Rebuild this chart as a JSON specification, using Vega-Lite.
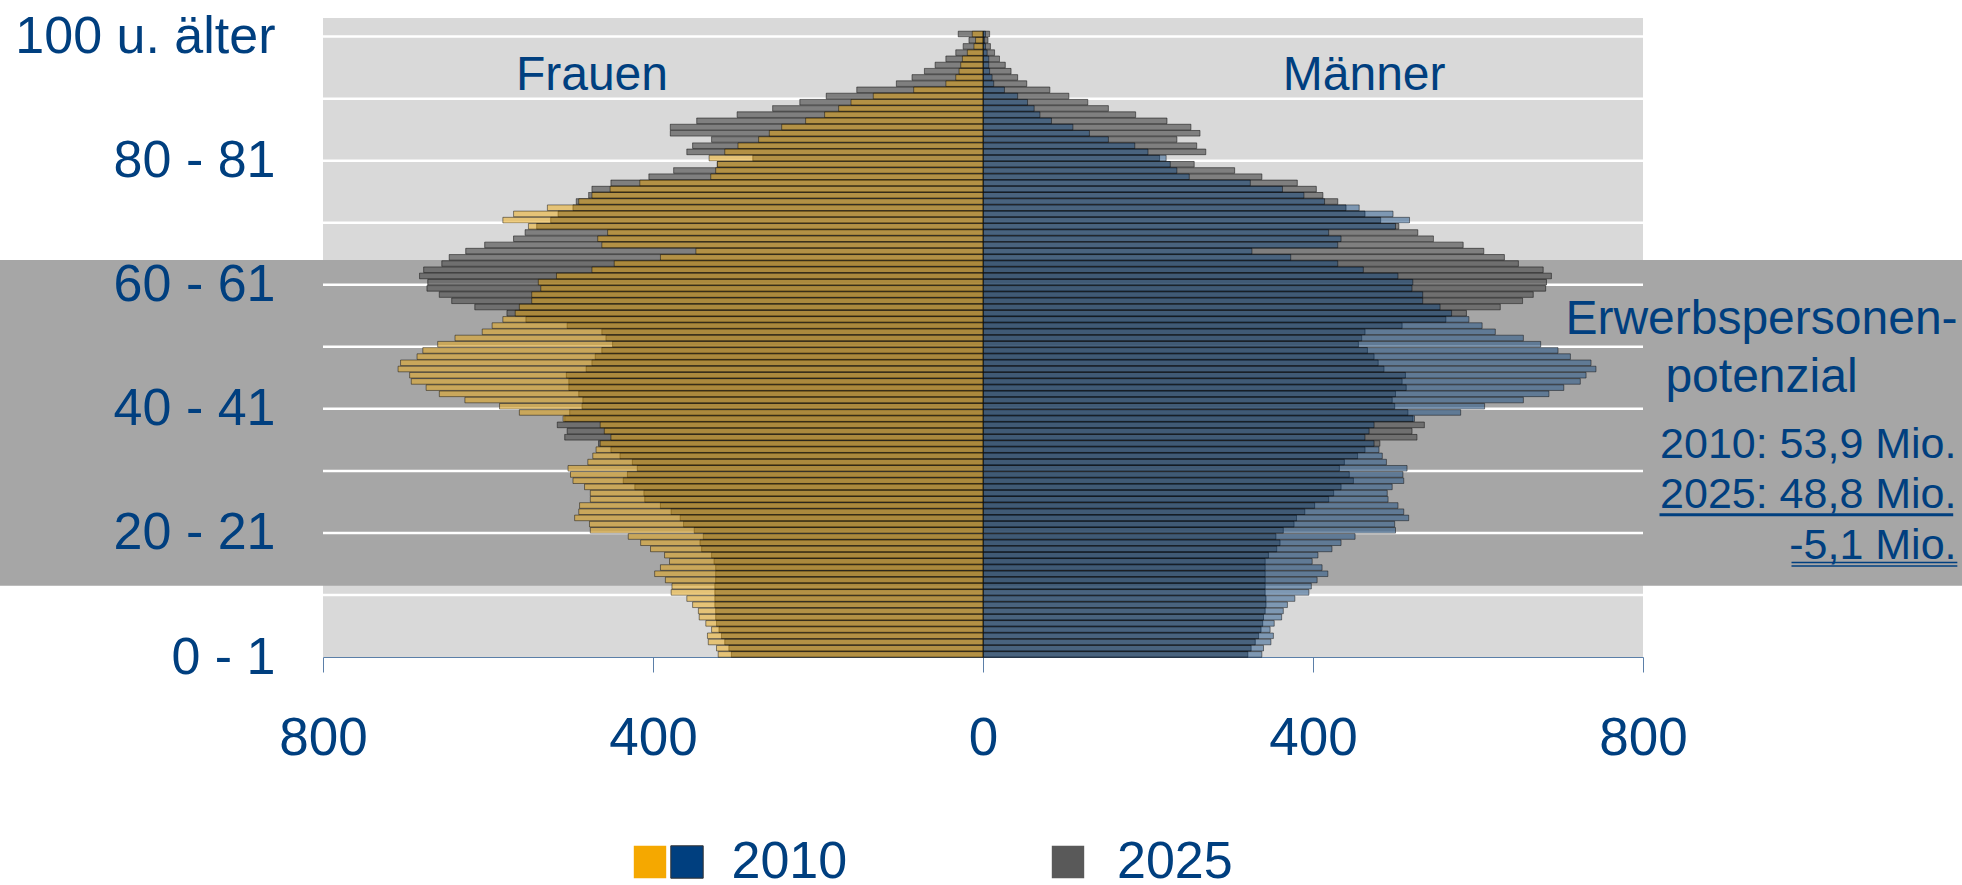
{
  "$schema": "https://vega.github.io/schema/vega-lite/v6.json",
  "width": 1320,
  "height": 639,
  "autosize": {"type": "none"},
  "padding": {"left": 323, "top": 18, "right": 319, "bottom": 228},
  "background": "white",
  "config": {"font": "Liberation Sans", "view": {"fill": "#d9d9d9", "stroke": null}},
  "data": {"values": [
    {"age":0,"f2010":321,"f2025":305,"m2010":338,"m2025":321},
    {"age":1,"f2010":323,"f2025":308,"m2010":340,"m2025":325},
    {"age":2,"f2010":333,"f2025":313,"m2010":349,"m2025":330},
    {"age":3,"f2010":334,"f2025":317,"m2010":352,"m2025":334},
    {"age":4,"f2010":329,"f2025":320,"m2010":348,"m2025":337},
    {"age":5,"f2010":336,"f2025":323,"m2010":353,"m2025":339},
    {"age":6,"f2010":344,"f2025":324,"m2010":362,"m2025":340},
    {"age":7,"f2010":345,"f2025":324,"m2010":364,"m2025":342},
    {"age":8,"f2010":352,"f2025":325,"m2010":369,"m2025":343},
    {"age":9,"f2010":359,"f2025":325,"m2010":378,"m2025":343},
    {"age":10,"f2010":378,"f2025":325,"m2010":395,"m2025":342},
    {"age":11,"f2010":377,"f2025":325,"m2010":398,"m2025":342},
    {"age":12,"f2010":385,"f2025":324,"m2010":405,"m2025":342},
    {"age":13,"f2010":398,"f2025":324,"m2010":418,"m2025":342},
    {"age":14,"f2010":391,"f2025":324,"m2010":411,"m2025":342},
    {"age":15,"f2010":380,"f2025":326,"m2010":399,"m2025":342},
    {"age":16,"f2010":386,"f2025":329,"m2010":406,"m2025":346},
    {"age":17,"f2010":403,"f2025":341,"m2010":423,"m2025":356},
    {"age":18,"f2010":415,"f2025":343,"m2010":434,"m2025":360},
    {"age":19,"f2010":430,"f2025":339,"m2010":451,"m2025":355},
    {"age":20,"f2010":476,"f2025":350,"m2010":500,"m2025":364},
    {"age":21,"f2010":477,"f2025":363,"m2010":499,"m2025":377},
    {"age":22,"f2010":495,"f2025":367,"m2010":516,"m2025":380},
    {"age":23,"f2010":490,"f2025":378,"m2010":510,"m2025":390},
    {"age":24,"f2010":489,"f2025":391,"m2010":503,"m2025":402},
    {"age":25,"f2010":476,"f2025":410,"m2010":491,"m2025":419},
    {"age":26,"f2010":476,"f2025":411,"m2010":490,"m2025":425},
    {"age":27,"f2010":483,"f2025":422,"m2010":496,"m2025":434},
    {"age":28,"f2010":497,"f2025":436,"m2010":510,"m2025":449},
    {"age":29,"f2010":500,"f2025":431,"m2010":509,"m2025":444},
    {"age":30,"f2010":503,"f2025":419,"m2010":514,"m2025":432},
    {"age":31,"f2010":479,"f2025":425,"m2010":489,"m2025":438},
    {"age":32,"f2010":473,"f2025":440,"m2010":484,"m2025":454},
    {"age":33,"f2010":469,"f2025":451,"m2010":480,"m2025":463},
    {"age":34,"f2010":464,"f2025":466,"m2010":474,"m2025":481},
    {"age":35,"f2010":451,"f2025":507,"m2010":463,"m2025":526},
    {"age":36,"f2010":459,"f2025":504,"m2010":468,"m2025":520},
    {"age":37,"f2010":464,"f2025":516,"m2010":474,"m2025":535},
    {"age":38,"f2010":509,"f2025":507,"m2010":523,"m2025":521},
    {"age":39,"f2010":562,"f2025":501,"m2010":579,"m2025":515},
    {"age":40,"f2010":586,"f2025":486,"m2010":608,"m2025":499},
    {"age":41,"f2010":628,"f2025":485,"m2010":655,"m2025":496},
    {"age":42,"f2010":659,"f2025":490,"m2010":686,"m2025":500},
    {"age":43,"f2010":675,"f2025":502,"m2010":704,"m2025":513},
    {"age":44,"f2010":693,"f2025":502,"m2010":724,"m2025":508},
    {"age":45,"f2010":695,"f2025":505,"m2010":731,"m2025":512},
    {"age":46,"f2010":709,"f2025":481,"m2010":743,"m2025":486},
    {"age":47,"f2010":706,"f2025":474,"m2010":737,"m2025":479},
    {"age":48,"f2010":686,"f2025":470,"m2010":712,"m2025":474},
    {"age":49,"f2010":679,"f2025":462,"m2010":697,"m2025":466},
    {"age":50,"f2010":661,"f2025":449,"m2010":676,"m2025":455},
    {"age":51,"f2010":640,"f2025":457,"m2010":655,"m2025":459},
    {"age":52,"f2010":607,"f2025":462,"m2010":621,"m2025":463},
    {"age":53,"f2010":595,"f2025":504,"m2010":605,"m2025":508},
    {"age":54,"f2010":582,"f2025":554,"m2010":589,"m2025":561},
    {"age":55,"f2010":567,"f2025":577,"m2010":568,"m2025":586},
    {"age":56,"f2010":562,"f2025":616,"m2010":554,"m2025":627},
    {"age":57,"f2010":547,"f2025":644,"m2010":533,"m2025":654},
    {"age":58,"f2010":547,"f2025":659,"m2010":533,"m2025":667},
    {"age":59,"f2010":536,"f2025":674,"m2010":520,"m2025":682},
    {"age":60,"f2010":539,"f2025":673,"m2010":521,"m2025":683},
    {"age":61,"f2010":517,"f2025":683,"m2010":503,"m2025":689},
    {"age":62,"f2010":474,"f2025":678,"m2010":461,"m2025":679},
    {"age":63,"f2010":447,"f2025":656,"m2010":430,"m2025":649},
    {"age":64,"f2010":391,"f2025":647,"m2010":373,"m2025":632},
    {"age":65,"f2010":348,"f2025":627,"m2010":326,"m2025":607},
    {"age":66,"f2010":462,"f2025":604,"m2010":430,"m2025":582},
    {"age":67,"f2010":467,"f2025":569,"m2010":434,"m2025":546},
    {"age":68,"f2010":455,"f2025":555,"m2010":419,"m2025":527},
    {"age":69,"f2010":551,"f2025":541,"m2010":500,"m2025":504},
    {"age":70,"f2010":582,"f2025":524,"m2010":517,"m2025":482},
    {"age":71,"f2010":569,"f2025":515,"m2010":497,"m2025":463},
    {"age":72,"f2010":528,"f2025":497,"m2010":456,"m2025":440},
    {"age":73,"f2010":490,"f2025":493,"m2010":414,"m2025":430},
    {"age":74,"f2010":474,"f2025":478,"m2010":389,"m2025":412},
    {"age":75,"f2010":452,"f2025":474,"m2010":363,"m2025":404},
    {"age":76,"f2010":416,"f2025":451,"m2010":324,"m2025":381},
    {"age":77,"f2010":330,"f2025":405,"m2010":250,"m2025":338},
    {"age":78,"f2010":324,"f2025":375,"m2010":235,"m2025":305},
    {"age":79,"f2010":322,"f2025":322,"m2010":227,"m2025":256},
    {"age":80,"f2010":332,"f2025":279,"m2010":222,"m2025":214},
    {"age":81,"f2010":313,"f2025":359,"m2010":200,"m2025":270},
    {"age":82,"f2010":297,"f2025":352,"m2010":184,"m2025":259},
    {"age":83,"f2010":272,"f2025":329,"m2010":152,"m2025":235},
    {"age":84,"f2010":259,"f2025":379,"m2010":129,"m2025":263},
    {"age":85,"f2010":244,"f2025":379,"m2010":109,"m2025":252},
    {"age":86,"f2010":215,"f2025":347,"m2010":83,"m2025":223},
    {"age":87,"f2010":192,"f2025":298,"m2010":69,"m2025":185},
    {"age":88,"f2010":175,"f2025":255,"m2010":62,"m2025":152},
    {"age":89,"f2010":160,"f2025":222,"m2010":54,"m2025":127},
    {"age":90,"f2010":133,"f2025":190,"m2010":42,"m2025":104},
    {"age":91,"f2010":84,"f2025":153,"m2010":26,"m2025":81},
    {"age":92,"f2010":45,"f2025":105,"m2010":13,"m2025":53},
    {"age":93,"f2010":33,"f2025":86,"m2010":11,"m2025":42},
    {"age":94,"f2010":29,"f2025":71,"m2010":8,"m2025":34},
    {"age":95,"f2010":27,"f2025":58,"m2010":7,"m2025":27},
    {"age":96,"f2010":25,"f2025":45,"m2010":7,"m2025":20},
    {"age":97,"f2010":19,"f2025":33,"m2010":5,"m2025":14},
    {"age":98,"f2010":11,"f2025":24,"m2010":3,"m2025":9},
    {"age":99,"f2010":9,"f2025":17,"m2010":2,"m2025":6},
    {"age":100,"f2010":13,"f2025":30,"m2010":3,"m2025":8}
  ]},
  "layer": [
    {
      "layer": [
        {
          "data": {"values": [{}]},
          "mark": {"type": "rect", "fill": "#a6a6a6"},
          "encoding": {
            "x": {"datum": -1200, "type": "quantitative", "scale": {"domain": [-800, 800]}},
            "x2": {"datum": 1200},
            "y": {"datum": 64, "type": "quantitative", "scale": {"domain": [0, 103], "nice": false, "zero": false}},
            "y2": {"datum": 11.5}
          }
        },
        {
          "transform": [{"filter": "datum.age > 0 && datum.age % 10 == 0"}],
          "mark": {"type": "rule", "color": "#ffffff", "strokeWidth": 2.5},
          "encoding": {
            "y": {"field": "age", "type": "quantitative", "scale": {"domain": [0, 103], "nice": false, "zero": false}}
          }
        },
        {
          "mark": {"type": "bar", "orient": "horizontal", "fill": "#595959", "fillOpacity": 0.7, "stroke": "#1a1a1a", "strokeWidth": 0.6, "binSpacing": 0.6},
          "encoding": {
            "y": {"field": "age", "type": "quantitative", "bin": {"binned": true, "step": 1}, "scale": {"domain": [0, 103], "nice": false, "zero": false}},
            "x": {"field": "m2025", "type": "quantitative", "scale": {"domain": [-800, 800]}},
            "strokeDash": {"datum": "2025", "type": "nominal", "scale": {"domain": ["2025"], "range": [[1, 0]]},
              "legend": {"orient": "none", "legendX": 719, "legendY": 818, "title": null, "direction": "horizontal",
                "symbolType": "square", "symbolSize": 1050, "symbolFillColor": "#595959", "symbolStrokeColor": "#333333", "symbolStrokeWidth": 1,
                "labelFontSize": 52, "labelColor": "#003F7F", "labelFont": "Liberation Sans", "labelOffset": 23, "padding": 0}}
          }
        },
        {
          "mark": {"type": "bar", "orient": "horizontal", "fillOpacity": 0.42, "stroke": "#000000", "strokeOpacity": 0.75, "strokeWidth": 0.6, "binSpacing": 0.6},
          "encoding": {
            "y": {"field": "age", "type": "quantitative", "bin": {"binned": true, "step": 1}, "scale": {"domain": [0, 103], "nice": false, "zero": false},
              "axis": {"values": [0, 20, 40, 60, 80, 100], "labelExpr": "datum.value == 100 ? '100 u. älter' : datum.value + ' - ' + (datum.value + 1)",
                "title": null, "grid": false, "ticks": false, "domain": false, "zindex": 1, "labelLimit": 0, "labelOverlap": false,
                "labelFontSize": 52, "labelColor": "#003F7F", "labelFont": "Liberation Sans", "labelPadding": 48}},
            "x": {"field": "m2010", "type": "quantitative", "scale": {"domain": [-800, 800]},
              "axis": {"values": [-800, -400, 0, 400, 800], "labelExpr": "'' + abs(datum.value)", "title": null, "grid": false,
                "tickSize": 15, "tickColor": "#5b7fa8", "domainColor": "#5b7fa8", "labelFlush": false, "labelPadding": 40,
                "labelFontSize": 53, "labelColor": "#003F7F", "labelFont": "Liberation Sans"}},
            "fill": {"datum": "M2010", "type": "nominal", "scale": {"domain": ["F2010", "M2010"], "range": ["#F5A800", "#003F7F"]},
              "legend": {"orient": "none", "legendX": 338, "legendY": 818, "title": null, "direction": "horizontal",
                "values": ["M2010"], "labelExpr": "'2010'",
                "symbolType": "square", "symbolSize": 1050, "symbolStrokeColor": "#333333", "symbolStrokeWidth": 1, "symbolOpacity": 1,
                "labelFontSize": 52, "labelColor": "#003F7F", "labelFont": "Liberation Sans", "labelOffset": 18.5, "padding": 0}}
          }
        },
        {
          "data": {"values": [{}]},
          "mark": {"type": "text", "text": "Frauen", "fontSize": 48, "color": "#003F7F", "align": "center", "baseline": "alphabetic"},
          "encoding": {
            "x": {"datum": -474, "type": "quantitative", "scale": {"domain": [-800, 800]}},
            "y": {"datum": 91.46, "type": "quantitative", "scale": {"domain": [0, 103], "nice": false, "zero": false}}
          }
        },
        {
          "data": {"values": [{}]},
          "mark": {"type": "text", "text": "Männer", "fontSize": 48, "color": "#003F7F", "align": "center", "baseline": "alphabetic"},
          "encoding": {
            "x": {"datum": 462, "type": "quantitative", "scale": {"domain": [-800, 800]}},
            "y": {"datum": 91.46, "type": "quantitative", "scale": {"domain": [0, 103], "nice": false, "zero": false}}
          }
        },
        {
          "data": {"values": [{}]},
          "mark": {"type": "text", "text": "Erwerbspersonen-", "fontSize": 48, "color": "#003F7F", "align": "center", "baseline": "alphabetic"},
          "encoding": {
            "x": {"datum": 943.6, "type": "quantitative", "scale": {"domain": [-800, 800]}},
            "y": {"datum": 52.07, "type": "quantitative", "scale": {"domain": [0, 103], "nice": false, "zero": false}}
          }
        },
        {
          "data": {"values": [{}]},
          "mark": {"type": "text", "text": "potenzial", "fontSize": 48, "color": "#003F7F", "align": "center", "baseline": "alphabetic"},
          "encoding": {
            "x": {"datum": 943.6, "type": "quantitative", "scale": {"domain": [-800, 800]}},
            "y": {"datum": 42.66, "type": "quantitative", "scale": {"domain": [0, 103], "nice": false, "zero": false}}
          }
        },
        {
          "data": {"values": [{}]},
          "mark": {"type": "text", "text": "2010: 53,9 Mio.", "fontSize": 43, "color": "#003F7F", "align": "right", "baseline": "alphabetic"},
          "encoding": {
            "x": {"datum": 1180, "type": "quantitative", "scale": {"domain": [-800, 800]}},
            "y": {"datum": 32.08, "type": "quantitative", "scale": {"domain": [0, 103], "nice": false, "zero": false}}
          }
        },
        {
          "data": {"values": [{}]},
          "mark": {"type": "text", "text": "2025: 48,8 Mio.", "fontSize": 43, "color": "#003F7F", "align": "right", "baseline": "alphabetic"},
          "encoding": {
            "x": {"datum": 1180, "type": "quantitative", "scale": {"domain": [-800, 800]}},
            "y": {"datum": 24.02, "type": "quantitative", "scale": {"domain": [0, 103], "nice": false, "zero": false}}
          }
        },
        {
          "data": {"values": [{}]},
          "mark": {"type": "text", "text": "-5,1 Mio.", "fontSize": 43, "color": "#003F7F", "align": "right", "baseline": "alphabetic"},
          "encoding": {
            "x": {"datum": 1180, "type": "quantitative", "scale": {"domain": [-800, 800]}},
            "y": {"datum": 15.8, "type": "quantitative", "scale": {"domain": [0, 103], "nice": false, "zero": false}}
          }
        },
        {
          "data": {"values": [{}]},
          "mark": {"type": "rule", "color": "#003F7F", "strokeWidth": 3},
          "encoding": {
            "x": {"datum": 820, "type": "quantitative", "scale": {"domain": [-800, 800]}},
            "x2": {"datum": 1176},
            "y": {"datum": 22.94, "type": "quantitative", "scale": {"domain": [0, 103], "nice": false, "zero": false}}
          }
        },
        {
          "data": {"values": [{}]},
          "mark": {"type": "rule", "color": "#003F7F", "strokeWidth": 1.5},
          "encoding": {
            "x": {"datum": 980, "type": "quantitative", "scale": {"domain": [-800, 800]}},
            "x2": {"datum": 1181},
            "y": {"datum": 15.25, "type": "quantitative", "scale": {"domain": [0, 103], "nice": false, "zero": false}}
          }
        },
        {
          "data": {"values": [{}]},
          "mark": {"type": "rule", "color": "#003F7F", "strokeWidth": 1.5},
          "encoding": {
            "x": {"datum": 980, "type": "quantitative", "scale": {"domain": [-800, 800]}},
            "x2": {"datum": 1181},
            "y": {"datum": 14.67, "type": "quantitative", "scale": {"domain": [0, 103], "nice": false, "zero": false}}
          }
        }
      ]
    },
    {
      "layer": [
        {
          "mark": {"type": "bar", "orient": "horizontal", "fill": "#595959", "fillOpacity": 0.7, "stroke": "#1a1a1a", "strokeWidth": 0.6, "binSpacing": 0.6},
          "encoding": {
            "y": {"field": "age", "type": "quantitative", "bin": {"binned": true, "step": 1}, "scale": {"domain": [0, 103], "nice": false, "zero": false}},
            "x": {"field": "f2025", "type": "quantitative", "scale": {"domain": [-800, 800], "reverse": true}, "axis": null},
            "strokeDash": {"datum": "2025", "type": "nominal", "scale": {"domain": ["2025"], "range": [[1, 0]]}, "legend": null}
          }
        },
        {
          "mark": {"type": "bar", "orient": "horizontal", "fillOpacity": 0.45, "stroke": "#000000", "strokeOpacity": 0.75, "strokeWidth": 0.6, "binSpacing": 0.6},
          "encoding": {
            "y": {"field": "age", "type": "quantitative", "bin": {"binned": true, "step": 1}, "scale": {"domain": [0, 103], "nice": false, "zero": false}},
            "x": {"field": "f2010", "type": "quantitative", "scale": {"domain": [-800, 800], "reverse": true}, "axis": null},
            "fill": {"datum": "F2010", "type": "nominal", "scale": {"domain": ["F2010", "M2010"], "range": ["#F5A800", "#003F7F"]}, "legend": null},
            "opacity": {"datum": "Frauen 2010", "type": "nominal", "scale": {"domain": ["Frauen 2010"], "range": [1]},
              "legend": {"orient": "none", "legendX": 301, "legendY": 818, "title": null, "direction": "horizontal",
                "labelExpr": "''", "symbolType": "square", "symbolSize": 1050, "symbolFillColor": "#F5A800", "symbolStrokeColor": "#333333", "symbolStrokeWidth": 1,
                "symbolOpacity": 1, "labelFontSize": 52, "labelOffset": 0, "padding": 0}}
          }
        }
      ]
    }
  ],
  "resolve": {"scale": {"x": "independent"}, "axis": {"x": "independent"}}
}
